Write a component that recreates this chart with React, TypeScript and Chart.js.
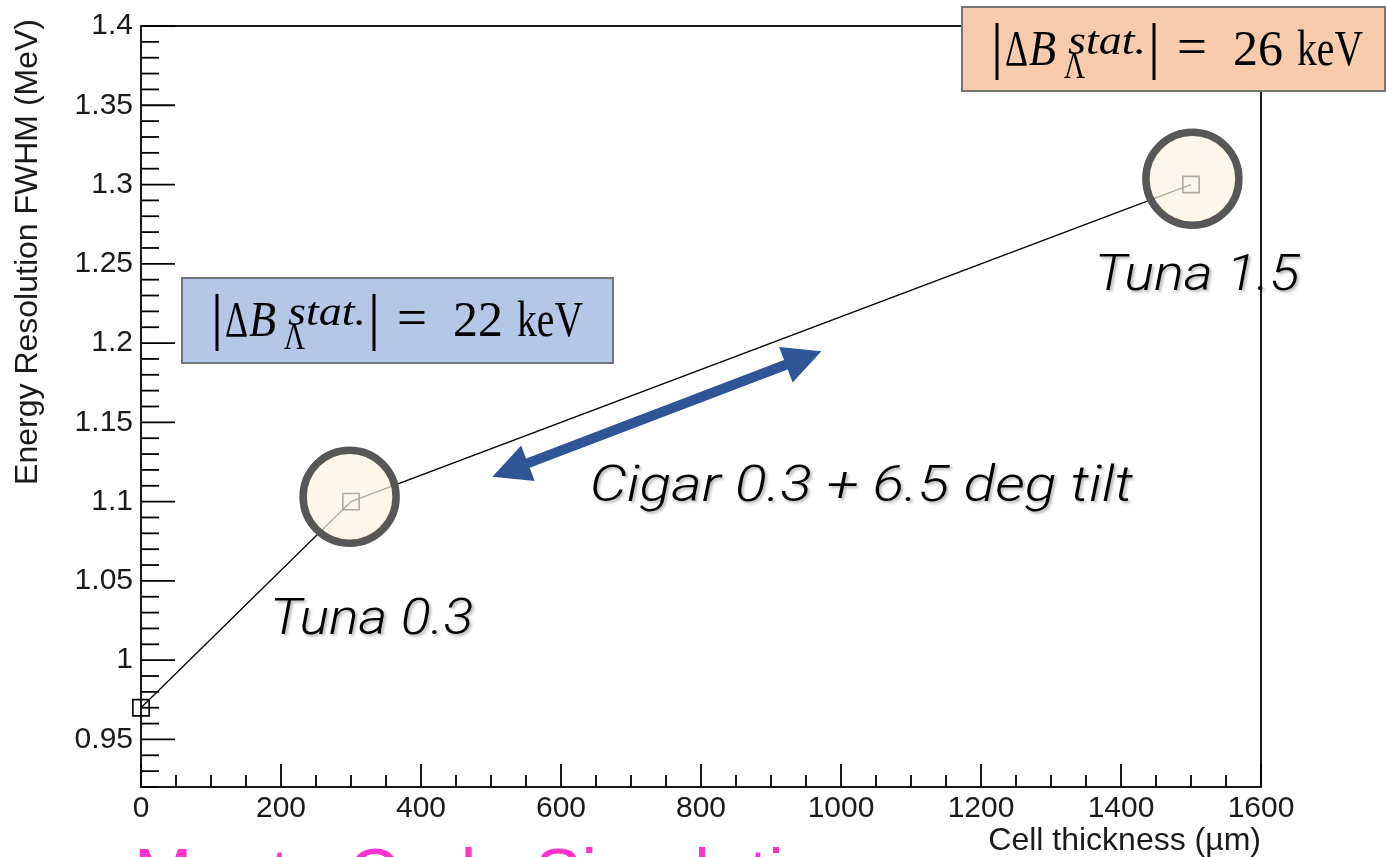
import React, { useEffect, useRef } from "react";
import { Chart, registerables } from "chart.js";

Chart.register(...registerables);

// ---- data ----
const thickness = [0, 300, 1500]; // µm
const fwhm = [0.97, 1.1, 1.3]; // MeV

const xMin = 0;
const xMax = 1600;
const xStep = 50;
const xLabelEvery = 200;
const yMin = 0.92;
const yMax = 1.4;
const yStep = 0.01;

const xTitle = "Cell thickness (\u00b5m)";
const yTitle = "Energy Resolution FWHM (MeV)";
const bottomText = "Monte Carlo Simulation";

// annotations (data units)
const circleX = [298, 1502];
const circleY = [1.1031, 1.3037];
const labelTexts = ["Tuna 0.3", "Tuna 1.5", "Cigar 0.3 + 6.5 deg tilt"];
const labelLeftX = [184, 1362, 641];
const labelRightX = [475, 1655, 1417];
const labelBaseY = [1.0163, 1.2333, 1.1006];
const arrowFrom = [502, 1.1157];
const arrowTo = [972, 1.1949];

// ΔB boxes
const boxValues = ["22", "26"];
const boxFill = ["#b4c7e7", "#f8cbad"];
const boxLeft = [182, 962];
const boxTop = [278, 7];
const boxWidth = [431, 423];
const boxHeight = [85, 84];

const isMajorY = (v: number) => Math.round(v * 100) % 5 === 0;
const isMajorX = (v: number) => Math.round(v) % xLabelEvery === 0;

function fitText(ctx: CanvasRenderingContext2D, text: string, x: number, y: number, w: number) {
  const m = ctx.measureText(text).width;
  ctx.save();
  ctx.translate(x, y);
  ctx.scale(w / m, 1);
  ctx.textAlign = "left";
  ctx.fillText(text, 0, 0);
  ctx.restore();
}

const framePlugin = {
  id: "rootFrame",
  beforeDatasetsDraw(chart: any) {
    const { ctx, chartArea: a, scales } = chart;
    ctx.save();
    ctx.strokeStyle = "#000";
    ctx.lineWidth = 1.8;
    ctx.strokeRect(a.left, a.top, a.right - a.left, a.bottom - a.top);
    scales.y.ticks.forEach((t: any) => {
      const p = scales.y.getPixelForValue(t.value);
      const len = isMajorY(t.value) ? 34 : 18;
      ctx.beginPath();
      ctx.moveTo(a.left, p);
      ctx.lineTo(a.left + len, p);
      ctx.stroke();
    });
    scales.x.ticks.forEach((t: any) => {
      const p = scales.x.getPixelForValue(t.value);
      const len = isMajorX(t.value) ? 23 : 12;
      ctx.beginPath();
      ctx.moveTo(p, a.bottom);
      ctx.lineTo(p, a.bottom - len);
      ctx.stroke();
    });
    // axis titles
    ctx.fillStyle = "#1a1a1a";
    ctx.font = '32px "Liberation Sans", Arial, sans-serif';
    ctx.textAlign = "right";
    ctx.textBaseline = "alphabetic";
    ctx.fillText(xTitle, a.right, 850);
    ctx.translate(37, 19);
    ctx.rotate(-Math.PI / 2);
    ctx.fillText(yTitle, 0, 0);
    ctx.restore();
  },
  afterDraw(chart: any) {
    const { ctx, scales } = chart;
    const X = (v: number) => scales.x.getPixelForValue(v);
    const Y = (v: number) => scales.y.getPixelForValue(v);
    ctx.save();
    // circles
    for (let i = 0; i < circleX.length; i++) {
      ctx.beginPath();
      ctx.arc(X(circleX[i]), Y(circleY[i]), 46.5, 0, Math.PI * 2);
      ctx.fillStyle = "rgba(252,244,225,0.7)";
      ctx.fill();
      ctx.lineWidth = 7.5;
      ctx.strokeStyle = "#575757";
      ctx.stroke();
    }
    // double arrow
    const x1 = X(arrowFrom[0]), y1 = Y(arrowFrom[1]);
    const x2 = X(arrowTo[0]), y2 = Y(arrowTo[1]);
    const len = Math.hypot(x2 - x1, y2 - y1);
    const dx = (x2 - x1) / len, dy = (y2 - y1) / len;
    const nx = -dy, ny = dx;
    const L = 38, H = 19, W = 5;
    ctx.fillStyle = "#2f5597";
    ctx.beginPath();
    ctx.moveTo(x1 + dx * L * 0.8 + nx * W, y1 + dy * L * 0.8 + ny * W);
    ctx.lineTo(x2 - dx * L * 0.8 + nx * W, y2 - dy * L * 0.8 + ny * W);
    ctx.lineTo(x2 - dx * L * 0.8 - nx * W, y2 - dy * L * 0.8 - ny * W);
    ctx.lineTo(x1 + dx * L * 0.8 - nx * W, y1 + dy * L * 0.8 - ny * W);
    ctx.closePath();
    ctx.fill();
    [[x1, y1, 1], [x2, y2, -1]].forEach(([px, py, s]) => {
      ctx.beginPath();
      ctx.moveTo(px, py);
      ctx.lineTo(px + s * dx * L + nx * H, py + s * dy * L + ny * H);
      ctx.lineTo(px + s * dx * L - nx * H, py + s * dy * L - ny * H);
      ctx.closePath();
      ctx.fill();
    });
    // italic labels
    ctx.font = 'italic 300 49px Roboto, "Noto Sans", sans-serif';
    ctx.fillStyle = "#000";
    ctx.shadowColor = "rgba(0,0,0,0.3)";
    ctx.shadowOffsetX = 2;
    ctx.shadowOffsetY = 2;
    ctx.shadowBlur = 3;
    for (let i = 0; i < labelTexts.length; i++) {
      fitText(ctx, labelTexts[i], X(labelLeftX[i]), Y(labelBaseY[i]), X(labelRightX[i]) - X(labelLeftX[i]));
    }
    ctx.shadowColor = "transparent";
    ctx.shadowBlur = 0;
    ctx.shadowOffsetX = 0;
    ctx.shadowOffsetY = 0;
    // ΔB boxes
    for (let i = 0; i < boxValues.length; i++) {
      const bx = boxLeft[i], by = boxTop[i];
      ctx.fillStyle = boxFill[i];
      ctx.fillRect(bx, by, boxWidth[i], boxHeight[i]);
      ctx.strokeStyle = "#767676";
      ctx.lineWidth = 2;
      ctx.strokeRect(bx, by, boxWidth[i], boxHeight[i]);
      ctx.fillStyle = "#000";
      ctx.strokeStyle = "#000";
      ctx.lineWidth = 3;
      [35, 192].forEach((o) => {
        ctx.beginPath();
        ctx.moveTo(bx + o, by + 16);
        ctx.lineTo(bx + o, by + 73);
        ctx.stroke();
      });
      ctx.textBaseline = "alphabetic";
      const serif = '"Liberation Serif", "DejaVu Serif", serif';
      ctx.font = `50px ${serif}`;
      fitText(ctx, "\u0394", bx + 43, by + 58, 23);
      ctx.font = `italic 50px ${serif}`;
      fitText(ctx, "B", bx + 67, by + 58, 27);
      ctx.font = `italic 40px ${serif}`;
      fitText(ctx, "stat.", bx + 106, by + 47, 78);
      ctx.font = `38px ${serif}`;
      fitText(ctx, "\u039b", bx + 102, by + 71, 21);
      ctx.font = `52px ${serif}`;
      fitText(ctx, "=", bx + 215, by + 57, 30);
      ctx.font = `50px ${serif}`;
      fitText(ctx, boxValues[i], bx + 271, by + 58, 50);
      fitText(ctx, "keV", bx + 335, by + 58, 66);
    }
    // bottom text
    ctx.font = '70px "Liberation Sans", Arial, sans-serif';
    ctx.fillStyle = "#ff33cc";
    ctx.textAlign = "left";
    ctx.fillText(bottomText, 134, 898);
    ctx.restore();
  },
};

export default function App() {
  const ref = useRef<HTMLCanvasElement>(null);
  useEffect(() => {
    const tickFont = { family: '"Liberation Sans", Arial, sans-serif', size: 30 };
    const chart = new Chart(ref.current!, {
      type: "line",
      data: {
        datasets: [
          {
            data: thickness.map((x, i) => ({ x, y: fwhm[i] })),
            borderColor: "#000",
            borderWidth: 1.3,
            pointStyle: "rect",
            pointRadius: 11.5,
            pointBorderWidth: 1.6,
            pointBorderColor: "#000",
            pointBackgroundColor: "rgba(0,0,0,0)",
            fill: false,
            tension: 0,
            clip: false,
          },
        ],
      },
      options: {
        animation: false,
        responsive: false,
        devicePixelRatio: 1,
        layout: { padding: { left: 0, right: 125, top: 24, bottom: 0 } },
        plugins: { legend: { display: false }, tooltip: { enabled: false } },
        scales: {
          x: {
            type: "linear",
            position: "bottom",
            min: xMin,
            max: xMax,
            grid: { display: false, drawTicks: false },
            border: { display: false },
            ticks: {
              stepSize: xStep,
              autoSkip: false,
              maxRotation: 0,
              padding: 4,
              color: "#1a1a1a",
              font: tickFont,
              callback: (v: any) => (isMajorX(Number(v)) ? String(v) : ""),
            },
            afterFit: (s: any) => {
              s.height = 70;
            },
          },
          y: {
            type: "linear",
            position: "left",
            min: yMin,
            max: yMax,
            grid: { display: false, drawTicks: false },
            border: { display: false },
            ticks: {
              stepSize: yStep,
              autoSkip: false,
              padding: 8,
              color: "#1a1a1a",
              font: tickFont,
              callback: (v: any) => {
                const r = Math.round(Number(v) * 100);
                return r % 5 === 0 ? String(r / 100) : "";
              },
            },
            afterFit: (s: any) => {
              s.width = 141;
            },
          },
        },
      },
      plugins: [framePlugin],
    } as any);
    return () => chart.destroy();
  }, []);
  return (
    <div style={{ position: "fixed", left: 0, top: 0, width: 1386, height: 857, background: "#fff" }}>
      <canvas ref={ref} width={1386} height={857} style={{ display: "block", width: 1386, height: 857 }} />
    </div>
  );
}
